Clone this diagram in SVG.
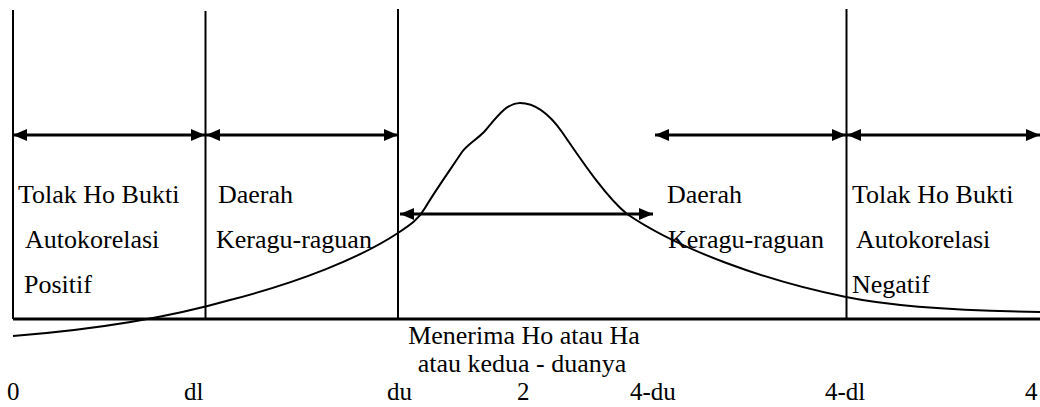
<svg xmlns="http://www.w3.org/2000/svg" width="1040" height="407" viewBox="0 0 1040 407">
<style>
text{font-family:"Liberation Serif","Times New Roman","DejaVu Serif",serif;font-size:26px;fill:#000}
text.n{font-size:25px}
.v{stroke:#000;stroke-width:2;fill:none}
.a{stroke:#000;stroke-width:3;fill:none;marker-start:url(#h);marker-end:url(#h)}
.c{stroke:#000;stroke-width:2;fill:none}
</style>
<defs>
<marker id="h" viewBox="0 0 14 12" refX="14" refY="6" markerWidth="14" markerHeight="12" markerUnits="userSpaceOnUse" orient="auto-start-reverse">
<path d="M0,0 L14,6 L0,12 Z" fill="#000"/>
</marker>
</defs>
<rect width="1040" height="407" fill="#fff"/>
<g id="axes">
<line class="v" x1="13" y1="10" x2="13" y2="319"/>
<line class="v" x1="205.5" y1="11" x2="205.5" y2="319"/>
<line class="v" x1="398" y1="9" x2="398" y2="319"/>
<line class="v" x1="846.5" y1="9" x2="846.5" y2="319"/>
<line x1="13" y1="319" x2="1040" y2="319" stroke="#000" stroke-width="3"/>
</g>
<g id="curve">
<path class="c" d="M13,336 C90,330 160,320 230,300 C300,282 360,258 398,233 C410,225 418,220 425,208 C435,191 450,170 462,152 C468,144 476,140 484,132 C496,118 506,103 520,103 C536,103 550,115 562,132 C580,158 605,196 627,214 C680,250 766,281 846,297 C900,308 970,311 1040,312"/>
</g>
<g id="connectors">
<line class="a" x1="13" y1="135" x2="205" y2="135"/>
<line class="a" x1="206" y1="135" x2="398" y2="135"/>
<line class="a" x1="655" y1="135" x2="846" y2="135"/>
<line class="a" x1="847" y1="135" x2="1040" y2="135"/>
<line class="a" x1="400" y1="214" x2="653" y2="214"/>
</g>
<g id="region-left">
<text x="18" y="203">Tolak Ho Bukti</text>
<text x="25" y="248">Autokorelasi</text>
<text x="24" y="293">Positif</text>
</g>
<g id="region-doubt-left">
<text x="218" y="203">Daerah</text>
<text x="216" y="248">Keragu-raguan</text>
</g>
<g id="region-doubt-right">
<text x="667" y="203">Daerah</text>
<text x="668" y="248">Keragu-raguan</text>
</g>
<g id="region-right">
<text x="852" y="203">Tolak Ho Bukti</text>
<text x="856" y="248">Autokorelasi</text>
<text x="852" y="293">Negatif</text>
</g>
<g id="region-accept">
<text class="n" transform="translate(524,344) scale(1.04,1)" text-anchor="middle">Menerima Ho atau Ha</text>
<text class="n" transform="translate(522,372) scale(1.04,1)" text-anchor="middle">atau kedua - duanya</text>
</g>
<g id="scale">
<text class="n" x="7" y="400">0</text>
<text class="n" x="184" y="400">dl</text>
<text class="n" x="387" y="400">du</text>
<text class="n" x="517" y="400">2</text>
<text class="n" x="630" y="400">4-du</text>
<text class="n" x="825" y="400">4-dl</text>
<text class="n" x="1025" y="400">4</text>
</g>
</svg>
